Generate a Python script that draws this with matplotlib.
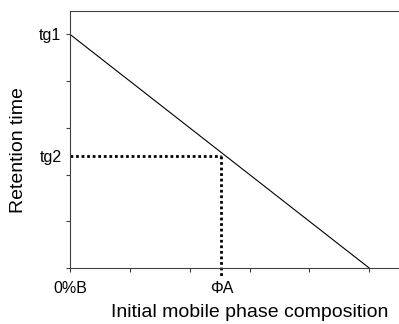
import matplotlib
matplotlib.use('Agg')
import matplotlib.pyplot as plt

# Data (arbitrary units): retention time falls linearly with %B
comp = [0, 5]
ret_time = [5, 0]
phi_a = 2.53
tg2 = 2.4
x_ticks = [0, 1, 2, 3, 4, 5]
x_labels = ['0%B', '', '', '', '', '']
y_ticks = [0, 1, 2, 3, 4, 5]
y_labels = ['', '', '', '', '', 'tg1']

plt.rcParams['font.family'] = ['Liberation Sans', 'DejaVu Sans']

fig = plt.figure(figsize=(3.99, 3.24), dpi=100)
ax = fig.add_axes([70/399, 56/324, 359/399, 257/324])

ax.plot(comp, ret_time, color='black', lw=0.8)

# dotted guides for tg2 / PhiA
ax.plot([0, phi_a], [tg2, tg2], color='black', lw=2, linestyle=(0, (1, 1)))
ax.plot([phi_a, phi_a], [tg2, -0.2], color='black', lw=2, linestyle=(0, (1, 1)),
        clip_on=False)

ax.set_xlim(0, 6)
ax.set_ylim(0, 5.5)

ax.set_xticks(x_ticks)
ax.set_xticklabels(x_labels)
ax.set_yticks(y_ticks)
ax.set_yticklabels(y_labels)

# labels that sit off the regular ticks
ax.set_xticks([phi_a], minor=True)
ax.set_xticklabels(['ΦA'], minor=True)
ax.set_yticks([tg2], minor=True)
ax.set_yticklabels(['tg2'], minor=True)

ax.tick_params(axis='both', which='major', length=3, width=0.8, color='#404040',
               labelsize=11.5)
ax.tick_params(axis='x', which='major', pad=6.5)
ax.tick_params(axis='y', which='major', pad=3.5)
ax.tick_params(axis='x', which='minor', length=0, pad=9.5, labelsize=11.5)
ax.tick_params(axis='y', which='minor', length=0, pad=6, labelsize=11.5)

for side in ['left', 'bottom', 'top']:
    ax.spines[side].set_color('#404040')
    ax.spines[side].set_linewidth(0.8)
ax.spines['right'].set_visible(False)

ax.set_xlabel('Initial mobile phase composition', fontsize=14)
ax.set_ylabel('Retention time', fontsize=14)
ax.xaxis.set_label_coords(0.5, -0.14)
ax.yaxis.set_label_coords(-0.12, 0.46)

fig.savefig('out.png', dpi=100)
